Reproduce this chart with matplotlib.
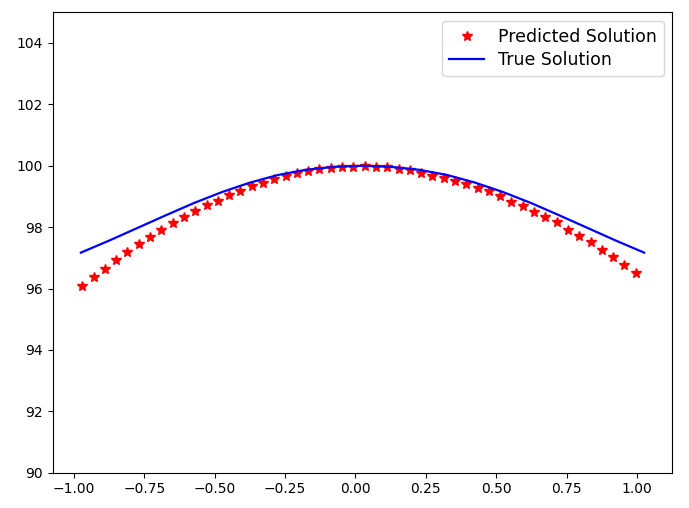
import matplotlib
matplotlib.use("Agg")
import matplotlib.pyplot as plt
import numpy as np

# Predicted solution (red stars)
pred_x = np.linspace(-0.970, 0.995, 50)
pred_y = [96.08, 96.36, 96.65, 96.93, 97.18, 97.44, 97.69, 97.92, 98.12, 98.33,
          98.52, 98.72, 98.86, 99.05, 99.19, 99.34, 99.45, 99.56, 99.66, 99.75,
          99.82, 99.88, 99.92, 99.95, 99.95, 99.98, 99.96, 99.95, 99.89, 99.86,
          99.76, 99.67, 99.59, 99.51, 99.40, 99.28, 99.17, 99.00, 98.83, 98.69,
          98.50, 98.32, 98.16, 97.91, 97.71, 97.51, 97.26, 97.02, 96.78, 96.50]

# True solution (blue line)
true_x = [-0.975, -0.875, -0.775, -0.675, -0.575, -0.475, -0.375, -0.275, -0.175, -0.075,
          0.025, 0.125, 0.225, 0.325, 0.425, 0.525, 0.625, 0.725, 0.825, 0.925, 1.025]
true_y = [97.17, 97.56, 97.97, 98.38, 98.78, 99.14, 99.45, 99.70, 99.87, 99.965,
          100.0, 99.965, 99.87, 99.70, 99.45, 99.14, 98.78, 98.38, 97.97, 97.56, 97.17]

fig = plt.figure(figsize=(6.89, 5.08), dpi=100)
ax = fig.add_axes([0.0765, 0.0695, 0.8993, 0.9063])
ax.plot(pred_x, pred_y, 'r*', markersize=7.5, label='Predicted Solution')
ax.plot(true_x, true_y, 'b-', linewidth=1.6, label='True Solution')
ax.set_ylim(90, 105)
ax.tick_params(labelsize=10)
ax.legend(loc='upper right', fontsize=12.5, labelspacing=0.3)
fig.savefig('out.png', dpi=100)
